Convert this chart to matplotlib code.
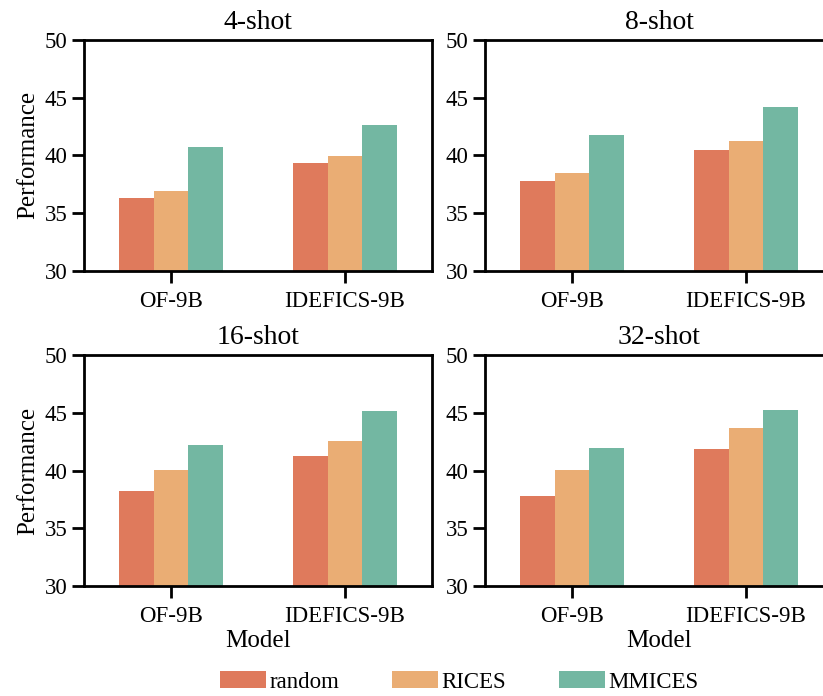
import matplotlib
matplotlib.use('Agg')
import matplotlib.pyplot as plt
import numpy as np

plt.rcParams['font.family'] = ['Liberation Serif', 'DejaVu Serif']

models = ['OF-9B', 'IDEFICS-9B']
methods = ['random', 'RICES', 'MMICES']
shots = ['4-shot', '8-shot', '16-shot', '32-shot']

# values per shot setting, one list per method: [OF-9B, IDEFICS-9B]
random_vals = [[36.3, 39.3], [37.8, 40.5], [38.2, 41.3], [37.8, 41.9]]
rices_vals = [[36.9, 39.9], [38.5, 41.2], [40.1, 42.6], [40.1, 43.7]]
mmices_vals = [[40.7, 42.6], [41.8, 44.2], [42.2, 45.2], [42.0, 45.3]]

colors = ['#DF7A5C', '#EAAD74', '#73B7A2']

fig, axes = plt.subplots(2, 2, figsize=(8.23, 6.96), dpi=100)
plt.subplots_adjust(left=0.1021, right=1.0122, top=0.9425, bottom=0.158,
                    wspace=0.152, hspace=0.368)

x = np.arange(len(models))
width = 0.2
for k, ax in enumerate(axes.flat):
    series = [random_vals[k], rices_vals[k], mmices_vals[k]]
    for i in range(3):
        ax.bar(x + (i - 1) * width, series[i], width, color=colors[i], label=methods[i])
    ax.set_ylim(30, 50)
    ax.set_xlim(-0.5, 1.5)
    ax.set_yticks([30, 35, 40, 45, 50])
    ax.set_xticks(x)
    ax.set_xticklabels(models)
    ax.tick_params(axis='both', labelsize=16.5, length=8.5, width=2, direction='out')
    ax.tick_params(axis='x', pad=6)
    for sp in ax.spines.values():
        sp.set_linewidth(2)
    ax.set_title(shots[k], fontsize=20, pad=8)
    if k % 2 == 0:
        ax.set_ylabel('Performance', fontsize=18)
    if k >= 2:
        ax.set_xlabel('Model', fontsize=18, labelpad=2)

handles, labels = axes[0, 0].get_legend_handles_labels()
fig.legend(handles, labels, loc='center', bbox_to_anchor=(0.558, 0.02), ncol=3,
           frameon=False, fontsize=16.5, handlelength=2.0, handleheight=0.75,
           columnspacing=2.3, handletextpad=0.15)

plt.savefig('out.png', dpi=100)
